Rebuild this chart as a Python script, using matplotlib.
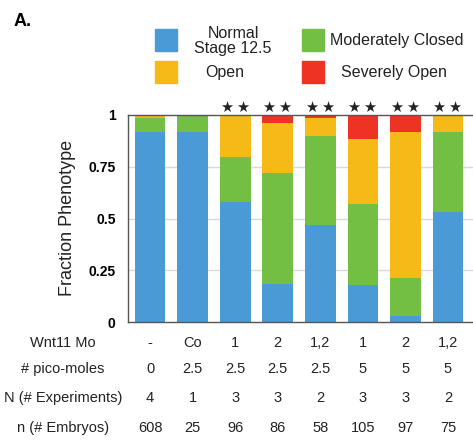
import matplotlib
matplotlib.use("Agg")
import matplotlib.pyplot as plt
from matplotlib.patches import Rectangle
from matplotlib.transforms import blended_transform_factory

plt.rcParams['font.family'] = ['Liberation Sans', 'DejaVu Sans']

# data (fraction of embryos per phenotype)
normal = [0.919, 0.919, 0.581, 0.185, 0.468, 0.177, 0.029, 0.532]
mod_closed = [0.068, 0.081, 0.217, 0.533, 0.430, 0.392, 0.184, 0.384]
open_ = [0.013, 0.0, 0.202, 0.242, 0.089, 0.313, 0.703, 0.084]
severe = [0.0, 0.0, 0.0, 0.040, 0.013, 0.118, 0.084, 0.0]
signif = [False, False, True, True, True, True, True, True]

wnt11_mo = ['-', 'Co', '1', '2', '1,2', '1', '2', '1,2']
pico_moles = ['0', '2.5', '2.5', '2.5', '2.5', '5', '5', '5']
n_experiments = ['4', '1', '3', '3', '2', '3', '3', '2']
n_embryos = ['608', '25', '96', '86', '58', '105', '97', '75']

c_blue = '#4A9BD5'
c_green = '#72BF44'
c_yellow = '#F5BA18'
c_red = '#EE3224'

W, H = 473, 441
fig = plt.figure(figsize=(W / 100, H / 100), dpi=100)

def fx(px):
    return px / W

def fy(py):
    return 1 - py / H

ax = fig.add_axes([fx(128), fy(322), fx(473) - fx(128) + 0.01, fy(115) - fy(322)])

x = list(range(len(normal)))
bottom = [0.0] * len(x)
for vals, col in [(normal, c_blue), (mod_closed, c_green), (open_, c_yellow), (severe, c_red)]:
    ax.bar(x, vals, width=0.72, bottom=bottom, color=col, zorder=2)
    bottom = [b + v for b, v in zip(bottom, vals)]

ax.set_xlim(-0.52, 7.7)
ax.set_ylim(0, 1)
ax.set_yticks([0, 0.25, 0.5, 0.75, 1])
ax.set_yticklabels(['0', '0.25', '0.5', '0.75', '1'], fontweight='bold', fontsize=10)
ax.tick_params(axis='y', length=0, pad=9)
ax.set_xticks([])
for yv in [0.25, 0.5, 0.75]:
    ax.axhline(yv, color='#d9d9d9', lw=1, zorder=1)
for s in ['left', 'bottom', 'top']:
    ax.spines[s].set_color('#555555')
    ax.spines[s].set_linewidth(1)
ax.spines['right'].set_visible(False)

# significance stars
tr = blended_transform_factory(ax.transData, fig.transFigure)
for i, s in enumerate(signif):
    if s:
        ax.text(i, fy(107), '★\u2009★', transform=tr, ha='center', va='center',
                fontsize=10.5, color='#222222', family=['DejaVu Sans'])

fig.text(fx(68), fy(218), 'Fraction Phenotype', rotation=90, ha='center', va='center',
         fontsize=13, color='#222222')
fig.text(fx(14), fy(21), 'A.', fontweight='bold', fontsize=13, ha='left', va='center')

# legend drawn by hand
legend_items = [
    (155, 29, c_blue, 'Normal\nStage 12.5', 233, 'center'),
    (155, 61, c_yellow, 'Open', 225, 'center'),
    (302, 29, c_green, 'Moderately Closed', 330, 'left'),
    (302, 61, c_red, 'Severely Open', 394, 'center'),
]
for bx, by, col, lab, tx, ha in legend_items:
    fig.add_artist(Rectangle((fx(bx), fy(by + 22)), fx(22), 22 / H, color=col,
                             transform=fig.transFigure))
    fig.text(fx(tx), fy(by + 12), lab, ha=ha, va='center', fontsize=11.5,
             linespacing=0.95, color='#222222')

# table under the chart
rows = [
    ('Wnt11 Mo', wnt11_mo, 343),
    ('# pico-moles', pico_moles, 369),
    ('N (# Experiments)', n_experiments, 398),
    ('n (# Embryos)', n_embryos, 428),
]
for lab, vals, py in rows:
    fig.text(fx(63), fy(py), lab, ha='center', va='center', fontsize=10.5, color='#222222')
    for i, v in enumerate(vals):
        ax.text(i, fy(py), v, transform=tr, ha='center', va='center', fontsize=10.5,
                color='#222222')

fig.savefig('out.png', dpi=100)
